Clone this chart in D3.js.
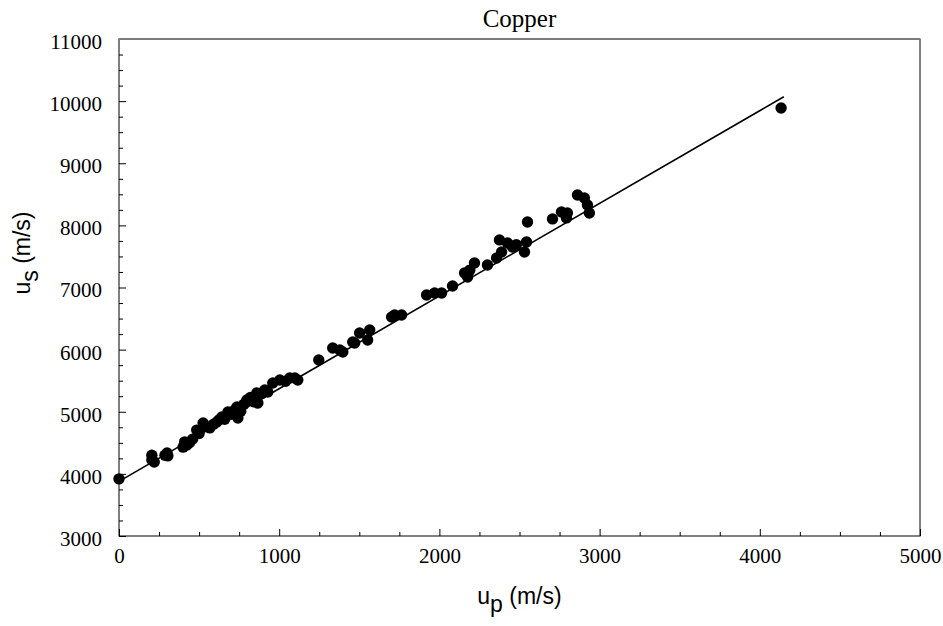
<!DOCTYPE html>
<html lang="en">
  <head>
    <meta charset="UTF-8" />
    <title>Copper</title>
    <style>
      body {
        margin: 0;
        background: #fff;
      }
      .serif {
        font-family: "Liberation Serif", "DejaVu Serif", serif;
      }
      .sans {
        font-family: "Liberation Sans", "DejaVu Sans", sans-serif;
      }
    </style>
  </head>
  <body>
    <svg id="svg" width="943" height="626"></svg>
    <script src="https://cdn.jsdelivr.net/npm/d3@7"></script>
    <script>
      // CONSTANTS
      const LEFT = 119;
      const RIGHT = 920;
      const TOP = 39;
      const BOTTOM = 536;

      // data: particle velocity up (m/s) and shock velocity us (m/s)
      const upValues = [
        0, 205, 205, 220, 287, 300, 305, 400, 410, 424, 440, 460, 485, 500,
        525, 545, 567, 590, 611, 625, 642, 660, 680, 700, 720, 736, 742, 760,
        780, 798, 820, 840, 860, 867, 890, 910, 929, 960, 1004, 1040, 1066,
        1097, 1116, 1247, 1334, 1378, 1397, 1459, 1471, 1502, 1552, 1565,
        1702, 1721, 1764, 1920, 1970, 2014, 2082, 2157, 2176, 2190, 2219,
        2300, 2357, 2375, 2388, 2425, 2456, 2480, 2531, 2544, 2550, 2706,
        2762, 2793, 2799, 2862, 2905, 2924, 2936, 4133,
      ];
      const usValues = [
        3920, 4300, 4225, 4190, 4300, 4335, 4290, 4430, 4515, 4465, 4500,
        4560, 4705, 4650, 4820, 4760, 4740, 4800, 4835, 4870, 4916, 4880,
        4996, 4960, 5020, 5077, 4900, 5010, 5120, 5190, 5230, 5160, 5302,
        5141, 5290, 5350, 5318, 5463, 5512, 5490, 5544, 5544, 5512, 5834,
        6027, 5995, 5962, 6123, 6107, 6268, 6156, 6317, 6526, 6558, 6558,
        6880, 6912, 6912, 7025, 7234, 7170, 7280, 7395, 7363, 7476, 7766,
        7572, 7717, 7653, 7690, 7572, 7733, 8055, 8104, 8216, 8120, 8200,
        8490, 8442, 8329, 8200, 9890,
      ];
      // linear fit drawn through the data
      const fitUp = [0, 4150];
      const fitUs = [3880, 10070];

      const xTicks = [0, 1000, 2000, 3000, 4000, 5000];
      const yTicks = [3000, 4000, 5000, 6000, 7000, 8000, 9000, 10000, 11000];

      const points = upValues.map((u, i) => ({ up: u, us: usValues[i] }));
      const fit = fitUp.map((u, i) => ({ up: u, us: fitUs[i] }));

      const x = d3.scaleLinear().domain([0, 5000]).range([LEFT, RIGHT]);
      const y = d3.scaleLinear().domain([3000, 11000]).range([BOTTOM, TOP]);

      const svg = d3.select("#svg");

      // minor ticks every 250, pointing inward
      const minorX = d3.range(0, 5001, 250).filter((d) => d % 1000 !== 0);
      const minorY = d3.range(3000, 11001, 250).filter((d) => d % 1000 !== 0);

      const xMinor = svg
        .append("g")
        .attr("transform", `translate(0, ${BOTTOM})`)
        .call(d3.axisBottom(x).tickValues(minorX).tickSize(-4).tickFormat(""));
      const yMinor = svg
        .append("g")
        .attr("transform", `translate(${LEFT}, 0)`)
        .call(d3.axisLeft(y).tickValues(minorY).tickSize(-4).tickFormat(""));

      const xAxis = svg
        .append("g")
        .attr("transform", `translate(0, ${BOTTOM})`)
        .call(
          d3
            .axisBottom(x)
            .tickValues(xTicks)
            .tickSize(-7)
            .tickPadding(12)
            .tickFormat(d3.format("d"))
        );
      const yAxis = svg
        .append("g")
        .attr("transform", `translate(${LEFT}, 0)`)
        .call(
          d3
            .axisLeft(y)
            .tickValues(yTicks)
            .tickSize(-7)
            .tickPadding(17)
            .tickFormat(d3.format("d"))
        );

      [xMinor, yMinor, xAxis, yAxis].forEach((g) => {
        g.select(".domain").remove();
        g.attr("font-family", null).attr("font-size", null);
        g.selectAll("line").attr("stroke", "#000");
      });
      [xAxis, yAxis].forEach((g) => {
        g.attr("class", "serif")
          .selectAll("text")
          .attr("fill", "#000")
          .style("font-size", "21px");
      });
      yAxis.selectAll("text").attr("dy", "0.45em");

      // plot frame
      svg
        .append("rect")
        .attr("x", LEFT)
        .attr("y", TOP)
        .attr("width", RIGHT - LEFT)
        .attr("height", BOTTOM - TOP)
        .attr("fill", "none")
        .attr("stroke", "#000")
        .attr("stroke-width", 1);
      svg
        .append("line")
        .attr("x1", LEFT)
        .attr("x2", RIGHT)
        .attr("y1", TOP)
        .attr("y2", TOP)
        .attr("stroke", "#7a7a7a")
        .attr("stroke-width", 2);

      // fit line
      const lineGen = d3
        .line()
        .x((d) => x(d.up))
        .y((d) => y(d.us));
      svg
        .append("path")
        .datum(fit)
        .attr("d", lineGen)
        .attr("fill", "none")
        .attr("stroke", "#000")
        .attr("stroke-width", 1.6);

      // data points
      svg
        .append("g")
        .selectAll("circle")
        .data(points)
        .enter()
        .append("circle")
        .attr("cx", (d) => x(d.up))
        .attr("cy", (d) => y(d.us))
        .attr("r", 5.7)
        .attr("fill", "#000");

      // title
      svg
        .append("text")
        .attr("class", "serif")
        .attr("x", (LEFT + RIGHT) / 2)
        .attr("y", 27)
        .attr("text-anchor", "middle")
        .style("font-size", "25px")
        .text("Copper");

      // x axis title
      const xt = svg
        .append("text")
        .attr("class", "sans")
        .attr("x", (LEFT + RIGHT) / 2)
        .attr("y", 604)
        .attr("text-anchor", "middle")
        .style("font-size", "23px");
      xt.append("tspan").text("u");
      xt.append("tspan").attr("dy", 8).text("p");
      xt.append("tspan").attr("dy", -8).text(" (m/s)");

      // y axis title
      const yt = svg
        .append("text")
        .attr("class", "sans")
        .attr("transform", `translate(30, 253) rotate(-90)`)
        .attr("text-anchor", "middle")
        .style("font-size", "23px");
      yt.append("tspan").text("u");
      yt.append("tspan").attr("dy", 8).text("s");
      yt.append("tspan").attr("dy", -8).text(" (m/s)");
    </script>
  </body>
</html>
